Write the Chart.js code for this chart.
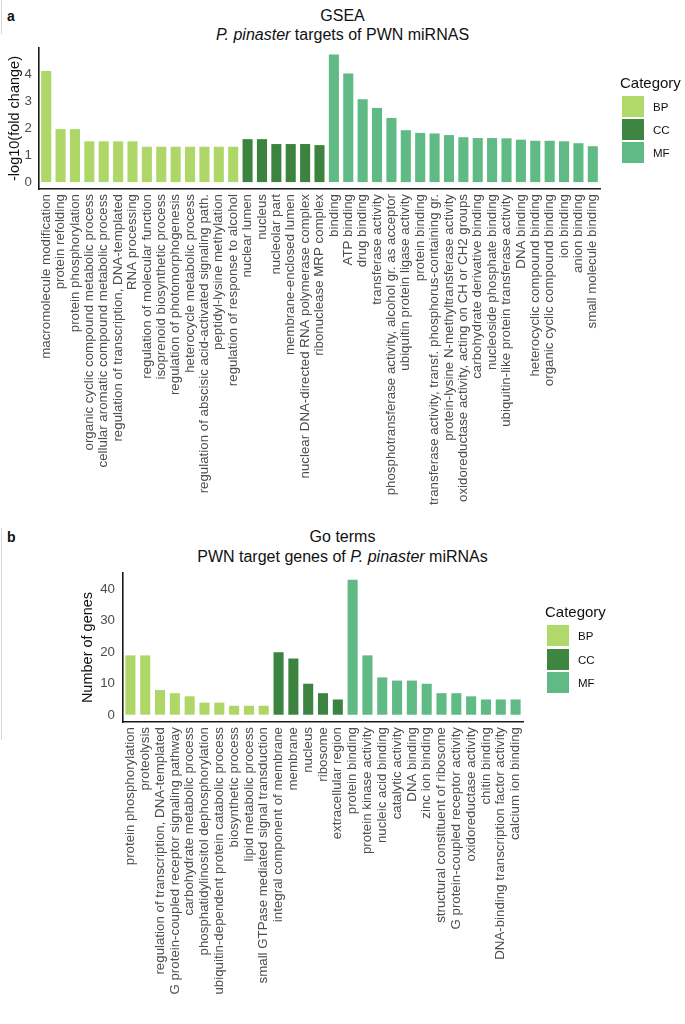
<!DOCTYPE html>
<html>
<head>
<meta charset="utf-8">
<script src="https://cdn.jsdelivr.net/npm/chart.js@4.4.0/dist/chart.umd.min.js"></script>
<style>
  body { margin:0; width:685px; height:1024px; position:relative; background:#fff; overflow:hidden;
         font-family:"Liberation Sans", Arial, sans-serif; }
  .abs { position:absolute; }
  .ttl { position:absolute; left:0; width:685px; text-align:center; font-size:16px; color:#111; line-height:20px; white-space:nowrap; }
  .panel { position:absolute; left:7px; font-weight:bold; font-size:14px; color:#111; line-height:18px; }
  .legtitle { position:absolute; font-size:15px; color:#111; line-height:18px; white-space:nowrap; }
  .legbox { position:absolute; width:22px; height:21px; }
  .leglab { position:absolute; font-size:11.5px; color:#111; line-height:14px; }
  .edge { position:absolute; left:1px; width:1px; background:#d6d6d6; }
  canvas { position:absolute; left:0; }
</style>
</head>
<body>
<div class="edge" style="top:0;height:34px"></div>
<div class="edge" style="top:528px;height:212px"></div>

<div class="panel" style="top:7px">a</div>
<div class="ttl" style="top:6px">GSEA</div>
<div class="ttl" style="top:25px"><i>P. pinaster</i> targets of PWN miRNAS</div>
<canvas id="chartA" width="685" height="510" style="top:0"></canvas>
<div id="legendA"></div>

<div class="panel" style="top:528px">b</div>
<div class="ttl" style="top:527px">Go terms</div>
<div class="ttl" style="top:547px">PWN target genes of <i>P. pinaster</i> miRNAs</div>
<canvas id="chartB" width="685" height="514" style="top:510px"></canvas>
<div id="legendB"></div>

<script>
// ---------- Panel a: GSEA ----------
const bpLabelsA = ["macromolecule modification","protein refolding","protein phosphorylation",
  "organic cyclic compound metabolic process","cellular aromatic compound metabolic process",
  "regulation of transcription, DNA-templated","RNA processing","regulation of molecular function",
  "isoprenoid biosynthetic process","regulation of photomorphogenesis","heterocycle metabolic process",
  "regulation of abscisic acid-activated signaling path.","peptidyl-lysine methylation",
  "regulation of response to alcohol"];
const bpValuesA = [4.11, 1.97, 1.97, 1.52, 1.52, 1.52, 1.52, 1.32, 1.32, 1.32, 1.32, 1.32, 1.32, 1.32];

const ccLabelsA = ["nuclear lumen","nucleus","nucleolar part","membrane-enclosed lumen",
  "nuclear DNA-directed RNA polymerase complex","ribonuclease MRP complex"];
const ccValuesA = [1.60, 1.60, 1.42, 1.42, 1.42, 1.38];

const mfLabelsA = ["binding","ATP binding","drug binding","transferase activity",
  "phosphotransferase activity, alcohol gr. as acceptor","ubiquitin protein ligase activity",
  "protein binding","transferase activity, transf. phosphorus-containing gr.",
  "protein-lysine N-methyltransferase activity","oxidoreductase activity, acting on CH or CH2 groups",
  "carbohydrate derivative binding","nucleoside phosphate binding",
  "ubiquitin-like protein transferase activity","DNA binding","heterocyclic compound binding",
  "organic cyclic compound binding","ion binding","anion binding","small molecule binding"];
const mfValuesA = [4.72, 4.02, 3.07, 2.75, 2.38, 1.93, 1.83, 1.81, 1.75, 1.67, 1.64, 1.64, 1.63,
  1.58, 1.54, 1.54, 1.52, 1.45, 1.34];

const yTicksA = [0, 1, 2, 3, 4];
const yGridA  = [0.5, 1.5, 2.5, 3.5, 4.5];

// ---------- Panel b: Go terms ----------
const bpLabelsB = ["protein phosphorylation","proteolysis","regulation of transcription, DNA-templated",
  "G protein-coupled receptor signaling pathway","carbohydrate metabolic process",
  "phosphatidylinositol dephosphorylation","ubiquitin-dependent protein catabolic process",
  "biosynthetic process","lipid metabolic process","small GTPase mediated signal transduction"];
const bpValuesB = [19, 19, 8, 7, 6, 4, 4, 3, 3, 3];

const ccLabelsB = ["integral component of membrane","membrane","nucleus","ribosome","extracellular region"];
const ccValuesB = [20, 18, 10, 7, 5];

const mfLabelsB = ["protein binding","protein kinase activity","nucleic acid binding","catalytic activity",
  "DNA binding","zinc ion binding","structural constituent of ribosome",
  "G protein-coupled receptor activity","oxidoreductase activity","chitin binding",
  "DNA-binding transcription factor activity","calcium ion binding"];
const mfValuesB = [43, 19, 12, 11, 11, 10, 7, 7, 6, 5, 5, 5];

const yTicksB = [0, 10, 20, 30, 40];
const yGridB  = [5, 15, 25, 35, 45];

// ---------- Styling ----------
const categoryNames = ["BP", "CC", "MF"];
const categoryColors = { BP: "rgba(166,211,88,0.9)", CC: "rgba(40,118,43,0.9)", MF: "rgba(78,178,120,0.9)" };
const legendColors   = { BP: "#b1d86a", CC: "#3d8540", MF: "#5fba86" };
const FONT = '"Liberation Sans", Arial, sans-serif';

function buildSet(groups) {
  const labels = [], values = [], colors = [];
  groups.forEach(([cat, labs, vals]) => {
    labs.forEach((l, i) => { labels.push(l); values.push(vals[i]); colors.push(categoryColors[cat]); });
  });
  return { labels, values, colors };
}

function makeChart(canvasId, set, cfg) {
  const allTicks = cfg.yTicks.concat(cfg.yGrid).sort((a, b) => a - b);
  return new Chart(document.getElementById(canvasId), {
    type: "bar",
    data: {
      labels: set.labels,
      datasets: [{
        data: set.values,
        backgroundColor: set.colors,
        borderWidth: 0,
        barPercentage: cfg.barPct,
        categoryPercentage: 1.0
      }]
    },
    options: {
      responsive: false,
      animation: false,
      devicePixelRatio: 1,
      layout: { padding: { top: cfg.top, right: cfg.right, left: cfg.left, bottom: 0 } },
      plugins: { legend: { display: false }, tooltip: { enabled: false }, title: { display: false } },
      scales: {
        x: {
          type: "category",
          offset: true,
          grid: { display: false, drawTicks: false },
          border: { display: true, color: "#1a1a1a", width: 1.6 },
          ticks: {
            autoSkip: false, maxRotation: 90, minRotation: 90, padding: 5,
            color: "#4d4d4d", font: { family: FONT, size: 13.3 }
          },
          afterFit: s => { s.height = cfg.xHeight; }
        },
        y: {
          min: cfg.yMin, max: cfg.yMax,
          afterBuildTicks: s => { s.ticks = allTicks.map(v => ({ value: v })); },
          afterFit: s => { s.width = cfg.yWidth; },
          grid: {
            drawTicks: false, lineWidth: 1,
            color: c => (c.tick && cfg.yGrid.includes(c.tick.value)) ? "#dadada" : "rgba(0,0,0,0)"
          },
          border: { display: true, color: "#1a1a1a", width: 1.6 },
          ticks: {
            padding: cfg.tickPad, color: "#4d4d4d", font: { family: FONT, size: 13.3 },
            callback: v => cfg.yTicks.includes(v) ? String(v) : ""
          },
          title: {
            display: true, text: cfg.yTitle, color: "#111",
            font: { family: FONT, size: 14.5 }, padding: { top: 6, bottom: 0 }
          }
        }
      }
    }
  });
}

function makeLegend(id, pos) {
  const el = document.getElementById(id);
  let html = `<div class="legtitle" style="left:${pos.x - 2}px;top:${pos.titleY}px">Category</div>`;
  categoryNames.forEach((c, i) => {
    const top = pos.boxY + i * pos.step;
    html += `<div class="legbox" style="left:${pos.x}px;top:${top}px;background:${legendColors[c]}"></div>`;
    html += `<div class="leglab" style="left:${pos.x + 31}px;top:${top + 4}px">${c}</div>`;
  });
  el.innerHTML = html;
}

const setA = buildSet([["BP", bpLabelsA, bpValuesA], ["CC", ccLabelsA, ccValuesA], ["MF", mfLabelsA, mfValuesA]]);
const setB = buildSet([["BP", bpLabelsB, bpValuesB], ["CC", ccLabelsB, ccValuesB], ["MF", mfLabelsB, mfValuesB]]);

// ggplot-style 5% expansion of data range
const maxA = Math.max(...setA.values), maxB = Math.max(...setB.values);

makeChart("chartA", setA, {
  top: 48, right: 85, left: 0, yWidth: 39, xHeight: 321, tickPad: 7, barPct: 0.7,
  yMin: -0.05 * maxA, yMax: 1.05 * maxA, yTicks: yTicksA, yGrid: yGridA, yTitle: "-log10(fold change)"
});
makeChart("chartB", setB, {
  top: 63, right: 162, left: 73, yWidth: 50, xHeight: 302, tickPad: 8, barPct: 0.68,
  yMin: -0.05 * maxB, yMax: 1.05 * maxB, yTicks: yTicksB, yGrid: yGridB, yTitle: "Number of genes"
});

makeLegend("legendA", { x: 622, titleY: 74, boxY: 96, step: 23 });
makeLegend("legendB", { x: 547, titleY: 603, boxY: 625, step: 23.5 });
</script>
</body>
</html>
